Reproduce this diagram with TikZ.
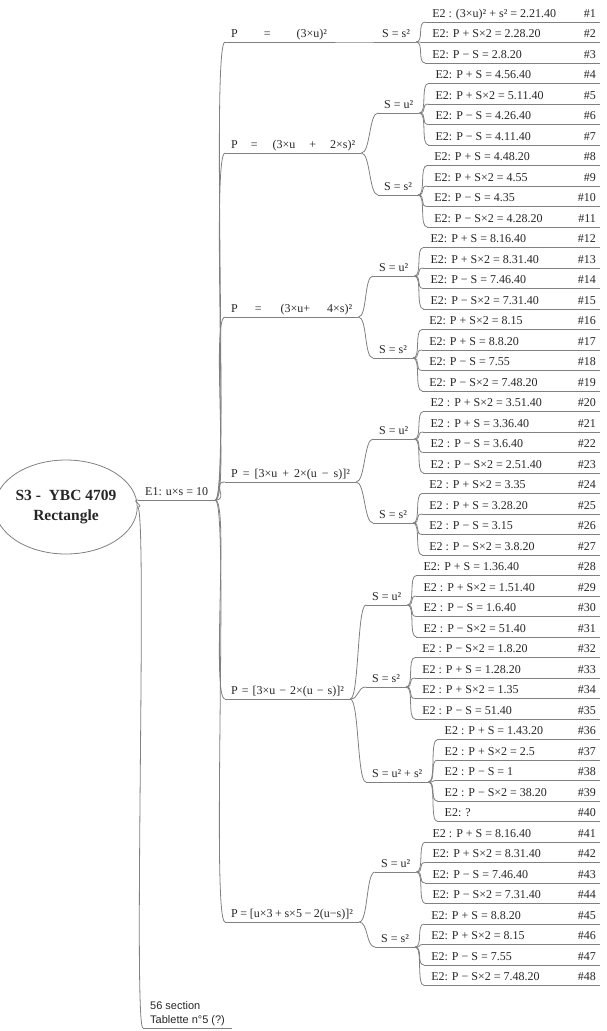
\documentclass[tikz,border=0pt]{standalone}
\usepackage{fontspec}
\setmainfont{Liberation Serif}
\newfontfamily\notefont{Liberation Sans}
\usetikzlibrary{positioning,calc,shapes}

\newcommand\mapfont{\fontsize{12}{14}\selectfont}

\tikzset{
  link/.style={draw=black!50, line width=0.8pt},
  twig/.style={to path={.. controls ($(\tikztostart)+(#1,0)$) and ($(\tikztotarget)+(-#1,0)$) .. (\tikztotarget)}},
  twig/.default=8,
  topic/.style={anchor=south west, inner xsep=6pt, inner ysep=1.5pt, text height=8.5pt, text depth=3pt, font=\mapfont, text=black!85},
  wide/.style={execute at begin node={\spaceskip=#1 plus 1pt\relax}},
  leaf/.style={topic, inner xsep=7pt},
  num/.style={anchor=south east, inner xsep=4pt, inner ysep=1.5pt, text height=8.5pt, text depth=3pt, font=\mapfont, text=black!85},
  note/.style={anchor=south west, inner xsep=7pt, inner ysep=2pt, align=left, font=\notefont\fontsize{11}{14}\selectfont, text=black!85},
}

\begin{document}
\begin{tikzpicture}[x=1pt,y=-1pt]
  \useasboundingbox (0,0) rectangle (607,1031);

  % root, E1 and the note
  \node[ellipse, draw=black!50, line width=0.8pt, minimum width=121pt, minimum height=94pt, inner sep=0pt,
        align=center, font=\fontsize{15.5}{20}\selectfont\bfseries, text=black!85] (root) at (66,507) {S3 -\ \ YBC 4709\\Rectangle};
  \node[topic, inner xsep=7pt] (e1) at (138,500) {E1: u×s = 10};
  \node[note] (nt) at (143,1028) {56 section\\Tablette n°5 (?)};

  % P level
  \node[topic] (p1) at (225,42) {P\hspace{26pt}=\hspace{26pt}(3×u)²};
  \node[topic] (p2) at (225,153) {P\hspace{13pt}=\hspace{15pt}(3×u\hspace{14pt}+\hspace{14pt}2×s)²};
  \node[topic] (p3) at (225,317) {P\hspace{17pt}=\hspace{19pt}(3×u+\hspace{17pt}4×s)²};
  \node[topic, wide=5pt] (p4) at (225,482) {P = [3×u + 2×(u − s)]²};
  \node[topic, wide=4pt] (p5) at (225,699) {P = [3×u − 2×(u − s)]²};
  \node[topic, wide=2.6pt] (p6) at (225,922) {P = [u×3 + s×5 − 2(u−s)]²};

  % S level
  \node[topic] (s1)  at (376,42)  {S = s²};
  \node[topic] (s2u) at (378,113) {S = u²};
  \node[topic] (s2s) at (378,195) {S = s²};
  \node[topic] (s3u) at (373,276) {S = u²};
  \node[topic] (s3s) at (373,358) {S = s²};
  \node[topic] (s4u) at (373,439) {S = u²};
  \node[topic] (s4s) at (373,523) {S = s²};
  \node[topic] (s5u) at (366,605) {S = u²};
  \node[topic] (s5s) at (366,687) {S = s²};
  \node[topic] (s5b) at (366,782) {S = u² + s²};
  \node[topic] (s6u) at (375,872) {S = u²};
  \node[topic] (s6s) at (375,947) {S = s²};

  \foreach \nd in {e1,p1,p2,p3,p4,p5,p6,s1,s2u,s2s,s3u,s3s,s4u,s4s,s5u,s5s,s5b,s6u,s6s,nt}
    \draw[link] (\nd.south west) -- (\nd.south east);

  \draw[link] (root.east) to[twig] (e1.south west);
  \draw[link] (root.east) to[twig=10] (nt.south west);
  \foreach \nd in {p1,p2,p3,p4,p5,p6}
    \draw[link] (e1.south east) to[twig=14] (\nd.south west);
  \foreach \a/\b in {p1/s1,p2/s2u,p2/s2s,p3/s3u,p3/s3s,p4/s4u,p4/s4s,p5/s5u,p5/s5s,p5/s5b,p6/s6u,p6/s6s}
    \draw[link] (\a.south east) to[twig=9] (\b.south west);

  % E2 leaves
  \foreach \i/\src/\txt in {
    1/s1/{E2 : (3×u)² + s² = 2.21.40}, 2/s1/{E2: P + S×2 = 2.28.20}, 3/s1/{E2: P − S = 2.8.20},
    4/s2u/{E2: P + S = 4.56.40}, 5/s2u/{E2: P + S×2 = 5.11.40}, 6/s2u/{E2: P − S = 4.26.40}, 7/s2u/{E2: P − S = 4.11.40},
    8/s2s/{E2: P + S = 4.48.20}, 9/s2s/{E2: P + S×2 = 4.55}, 10/s2s/{E2: P − S = 4.35}, 11/s2s/{E2: P − S×2 = 4.28.20},
    12/s3u/{E2: P + S = 8.16.40}, 13/s3u/{E2: P + S×2 = 8.31.40}, 14/s3u/{E2: P − S = 7.46.40}, 15/s3u/{E2: P − S×2 = 7.31.40},
    16/s3s/{E2: P + S×2 = 8.15}, 17/s3s/{E2: P + S = 8.8.20}, 18/s3s/{E2: P − S = 7.55}, 19/s3s/{E2: P − S×2 = 7.48.20},
    20/s4u/{E2 : P + S×2 = 3.51.40}, 21/s4u/{E2 : P + S = 3.36.40}, 22/s4u/{E2 : P − S = 3.6.40}, 23/s4u/{E2 : P − S×2 = 2.51.40},
    24/s4s/{E2 : P + S×2 = 3.35}, 25/s4s/{E2 : P + S = 3.28.20}, 26/s4s/{E2 : P − S = 3.15}, 27/s4s/{E2 : P − S×2 = 3.8.20},
    28/s5u/{E2: P + S = 1.36.40}, 29/s5u/{E2 : P + S×2 = 1.51.40}, 30/s5u/{E2 : P − S = 1.6.40}, 31/s5u/{E2 : P − S×2 = 51.40},
    32/s5s/{E2 : P − S×2 = 1.8.20}, 33/s5s/{E2 : P + S = 1.28.20}, 34/s5s/{E2 : P + S×2 = 1.35}, 35/s5s/{E2 : P − S = 51.40},
    36/s5b/{E2 : P + S = 1.43.20}, 37/s5b/{E2 : P + S×2 = 2.5}, 38/s5b/{E2 : P − S = 1}, 39/s5b/{E2 : P − S×2 = 38.20}, 40/s5b/{E2: ?},
    41/s6u/{E2 : P + S = 8.16.40}, 42/s6u/{E2: P + S×2 = 8.31.40}, 43/s6u/{E2: P − S = 7.46.40}, 44/s6u/{E2: P − S×2 = 7.31.40},
    45/s6s/{E2: P + S = 8.8.20}, 46/s6s/{E2: P + S×2 = 8.15}, 47/s6s/{E2: P − S = 7.55}, 48/s6s/{E2: P − S×2 = 7.48.20}}{
    \pgfmathsetmacro\yy{22+(\i-1)*20.5}
    \path (\src.south east) ++(9,0) coordinate (c);
    \coordinate (r) at (0,\yy);
    \node[leaf] (l\i) at (c |- r) {\txt};
    \node[num] (n\i) at (600,\yy) {\#\i};
    \draw[link] (l\i.south west) -- (n\i.south east);
    \draw[link] (\src.south east) to[twig] (l\i.south west);
  }
\end{tikzpicture}
\end{document}
